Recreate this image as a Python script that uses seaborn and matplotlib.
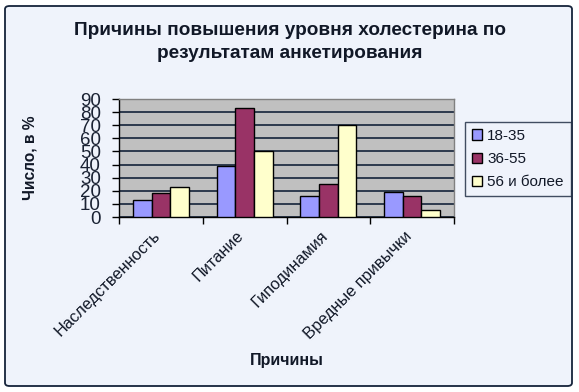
import pandas as pd
import numpy as np
import matplotlib
matplotlib.use('Agg')
import matplotlib.pyplot as plt
import seaborn as sns
from matplotlib.patches import FancyBboxPatch

# data
reasons = ['Наследственность', 'Питание', 'Гиподинамия', 'Вредные привычки']
groups = ['18-35', '36-55', '56 и более']
vals_18_35 = [13, 39, 16, 19]
vals_36_55 = [18, 83, 25, 16]
vals_56 = [23, 50, 70, 5]
colors = ['#9999FF', '#993366', '#FFFFCC']

df = pd.DataFrame({
    'Причины': reasons * 3,
    'Группа': [g for g in groups for _ in reasons],
    'Число': vals_18_35 + vals_36_55 + vals_56,
})

sns.set_style('white')
plt.rcParams['font.family'] = ['Liberation Sans', 'DejaVu Sans']
txt = '#111827'

fig = plt.figure(figsize=(5.79, 3.92), dpi=100, facecolor='white')

# rounded chart frame like the Excel chart area
frame = FancyBboxPatch((5 / 579, 1 - 386 / 392), 567 / 579, 380 / 392,
                       boxstyle='round,pad=0,rounding_size=0.008',
                       transform=fig.transFigure, facecolor='#EFF3FB',
                       edgecolor='#15233A', linewidth=1.3, zorder=-5)
fig.patches.append(frame)

ax = fig.add_axes([119 / 579, 1 - 217 / 392, 335 / 579, 118 / 392])
ax.set_zorder(2)
ax.set_facecolor('#C0C0C0')

sns.barplot(data=df, x='Причины', y='Число', hue='Группа', palette=colors,
            width=0.67, edgecolor='black', linewidth=1, saturation=1, ax=ax,
            zorder=3)

ax.set_ylim(0, 90)
ax.set_xlim(-0.5, 3.5)
ax.set_yticks(np.arange(0, 91, 10))
ax.yaxis.grid(True, color='#15233A', linewidth=1.2, zorder=1)
ax.set_axisbelow(True)

# category boundaries as ticks, names just left of the centres
ax.set_xticks(np.arange(-0.5, 4, 1))
ax.set_xticklabels([])
ax.set_xticks(np.arange(len(reasons)) - 0.1, minor=True)
ax.set_xticklabels(reasons, minor=True, rotation=45, ha='right',
                   rotation_mode='anchor', fontsize=11.8, color=txt)
ax.tick_params(axis='x', which='major', length=5, width=1, color='black',
               direction='out', bottom=True)
ax.tick_params(axis='x', which='minor', length=0, pad=8)
ax.tick_params(axis='y', length=5, width=1, color='black', direction='out',
               left=True, labelsize=13.5, pad=8, labelcolor='#1a2233')

for s in ['top', 'right']:
    ax.spines[s].set_color('#808080')
    ax.spines[s].set_linewidth(1)
for s in ['left', 'bottom']:
    ax.spines[s].set_color('black')
    ax.spines[s].set_linewidth(1)

ax.set_xlabel('')
ax.set_ylabel('')
fig.text(287 / 579, 1 - 360 / 392, 'Причины', ha='center', va='center',
         fontsize=11.5, fontweight='bold', color=txt)
fig.text(30 / 579, 1 - 158 / 392, 'Число, в %', ha='center', va='center',
         rotation=90, fontsize=11.2, fontweight='bold', color=txt)
fig.text(290 / 579, 1 - 42 / 392,
         'Причины повышения уровня холестерина по\nрезультатам анкетирования',
         ha='center', va='center', fontsize=13.7, fontweight='bold', color=txt,
         linespacing=1.5)

leg = ax.legend(loc='upper left', bbox_to_anchor=(465 / 579, 1 - 122 / 392),
                bbox_transform=fig.transFigure, frameon=True, fancybox=False,
                edgecolor='#15233A', facecolor='#EFF3FB', fontsize=11,
                handlelength=0.65, handleheight=0.65, handletextpad=0.35,
                labelspacing=0.6, borderpad=0.45, borderaxespad=0)
leg.get_frame().set_linewidth(1)
for t in leg.get_texts():
    t.set_color(txt)

fig.savefig('out.png', dpi=100, facecolor='white')
